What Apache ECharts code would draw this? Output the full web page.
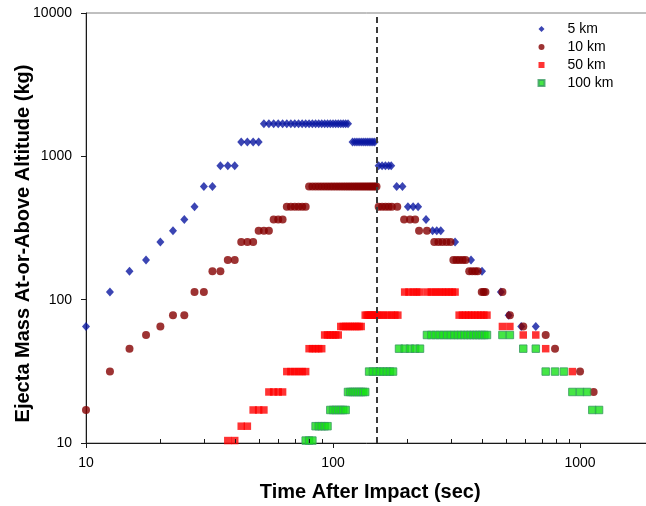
<!DOCTYPE html>
<html>
<head>
<meta charset="utf-8">
<script src="https://cdn.jsdelivr.net/npm/echarts@6/dist/echarts.min.js"></script>
<style>
html,body{margin:0;padding:0;background:#ffffff;}
#chart{width:646px;height:506px;}
</style>
</head>
<body>
<div id="chart"></div>
<script>
// ---- Data ----
const seriesNames = ['5 km', '10 km', '50 km', '100 km'];

const blueTime = [10, 12.5, 15, 17.5, 20, 22.5, 25, 27.5, 30, 32.5, 35, 37.5, 40, 42.5, 45, 47.5, 50,
  52.5, 55, 57.5, 60, 62.5, 65, 67.5, 70, 72.5, 75, 77.5, 80, 82.5, 85, 87.5, 90, 92.5, 95, 97.5, 100, 102.5, 105, 107.5, 110, 112.5, 115,
  120, 122.5, 125, 127.5, 130, 132.5, 135, 137.5, 140, 142.5, 145, 147.5,
  153, 158, 163, 168, 172, 181, 191, 201, 211, 221, 238, 253, 263, 273, 312, 362, 401, 478, 514, 578, 662];
const blueMass = [65, 113, 158, 189, 253, 303, 362, 445, 615, 615, 860, 860, 860, 1260, 1260, 1260, 1260,
  1690, 1690, 1690, 1690, 1690, 1690, 1690, 1690, 1690, 1690, 1690, 1690, 1690, 1690, 1690, 1690, 1690, 1690, 1690, 1690, 1690, 1690, 1690, 1690, 1690, 1690,
  1260, 1260, 1260, 1260, 1260, 1260, 1260, 1260, 1260, 1260, 1260, 1260,
  860, 860, 860, 860, 860, 615, 615, 445, 445, 445, 362, 303, 303, 303, 253, 189, 158, 113, 78, 65, 65];

const maroonTime = [10, 12.5, 15, 17.5, 20, 22.5, 25, 27.5, 30, 32.5, 35, 37.5, 40, 42.5, 45, 47.5, 50, 52.5, 55, 57.5, 60, 62.5,
  65, 67.5, 70, 72.5, 75, 77.5,
  80, 82.5, 85, 87.5, 90, 92.5, 95, 97.5, 100, 102.5, 105, 107.5, 110, 112.5, 115, 117.5, 120, 122.5, 125, 127.5, 130, 132.5, 135, 137.5, 140, 142.5, 145, 147.5, 150,
  153, 158, 163, 168, 173, 182, 194, 205, 215, 223, 240, 257, 267, 277, 288, 299, 307, 316, 325, 335, 344, 356, 366, 376, 385,
  400, 407, 414, 485, 520, 589, 726, 792, 1000, 1135];
const maroonMass = [17, 31.5, 45.5, 56.7, 65, 78, 78, 113, 113, 158, 158, 189, 189, 253, 253, 253, 303, 303, 303, 362, 362, 362,
  445, 445, 445, 445, 445, 445,
  615, 615, 615, 615, 615, 615, 615, 615, 615, 615, 615, 615, 615, 615, 615, 615, 615, 615, 615, 615, 615, 615, 615, 615, 615, 615, 615, 615, 615,
  445, 445, 445, 445, 445, 445, 362, 362, 362, 303, 303, 253, 253, 253, 253, 253, 189, 189, 189, 189, 189, 158, 158, 158, 158,
  113, 113, 113, 113, 78, 65, 56.7, 45.5, 31.5, 22.7];

const redTime = [37.5, 40, 42.5, 45, 47.5, 50, 52.5, 55, 57.5, 60, 62.5,
  65, 67.5, 70, 72.5, 75, 77.5,
  80, 82.5, 85, 87.5, 90,
  92.5, 95, 97.5, 100, 102.5, 105,
  107.5, 110, 112.5, 115, 117.5, 120, 122.5, 125, 127.5, 130,
  135, 137.5, 140, 142.5, 145, 147.5, 150, 155, 160, 166, 172, 178, 183,
  195, 203, 211, 218, 225, 241, 250, 259, 268, 277, 286, 295, 304, 312,
  324, 334, 344, 354, 364, 375, 386, 397, 408, 420,
  485, 520, 589, 662, 726, 931];
const redMass = [10.4, 10.4, 13.1, 13.1, 17, 17, 17, 22.7, 22.7, 22.7, 22.7,
  31.5, 31.5, 31.5, 31.5, 31.5, 31.5,
  45.5, 45.5, 45.5, 45.5, 45.5,
  56.7, 56.7, 56.7, 56.7, 56.7, 56.7,
  65, 65, 65, 65, 65, 65, 65, 65, 65, 65,
  78, 78, 78, 78, 78, 78, 78, 78, 78, 78, 78, 78, 78,
  113, 113, 113, 113, 113, 113, 113, 113, 113, 113, 113, 113, 113, 113,
  78, 78, 78, 78, 78, 78, 78, 78, 78, 78,
  65, 65, 56.7, 56.7, 45.5, 31.5];

const greenTime = [77.5, 80, 82.5, 85, 87.5, 90, 92.5, 95, 97.5, 100, 102.5, 105, 107.5, 110, 112.5,
  115, 117.5, 120, 122.5, 125, 127.5, 130, 132.5, 135,
  140, 145, 150, 155, 160, 165, 170, 175,
  185, 195, 205, 215, 225,
  240, 250, 260, 270, 280, 290, 300, 310, 320, 330, 340, 350, 360, 370, 380, 390, 400, 410, 420, 485, 520,
  589, 662, 726, 792, 860, 931, 1000, 1067, 1121, 1194];
const greenMass = [10.4, 10.4, 10.4, 13.1, 13.1, 13.1, 13.1, 13.1, 17, 17, 17, 17, 17, 17, 17,
  22.7, 22.7, 22.7, 22.7, 22.7, 22.7, 22.7, 22.7, 22.7,
  31.5, 31.5, 31.5, 31.5, 31.5, 31.5, 31.5, 31.5,
  45.5, 45.5, 45.5, 45.5, 45.5,
  56.7, 56.7, 56.7, 56.7, 56.7, 56.7, 56.7, 56.7, 56.7, 56.7, 56.7, 56.7, 56.7, 56.7, 56.7, 56.7, 56.7, 56.7, 56.7, 56.7, 56.7,
  45.5, 45.5, 31.5, 31.5, 31.5, 22.7, 22.7, 22.7, 17, 17];

const impactMarkTime = 150;
const xMinorTicks = [20, 30, 40, 50, 60, 70, 80, 90, 200, 300, 400, 500, 600, 700, 800, 900];

// ---- Chart ----
const FONT = '"Liberation Sans", Arial, Helvetica, sans-serif';
const pairs = (t, m) => t.map((x, i) => [x, m[i]]);

const chart = echarts.init(document.getElementById('chart'), null, { renderer: 'canvas' });

const option = {
  animation: false,
  backgroundColor: '#ffffff',
  grid: { left: 86, right: -8.4, top: 13, bottom: 63, show: true, borderColor: '#808080', borderWidth: 1,
    containLabel: false, outerBoundsMode: 'none' },
  legend: {
    orient: 'vertical', left: 537.5, top: 22, padding: 0, itemWidth: 6, itemHeight: 6, itemGap: 4,
    textStyle: { fontFamily: FONT, fontSize: 14, color: '#000', padding: [0, 0, 0, 18] },
    data: [
      { name: seriesNames[0], icon: 'diamond' },
      { name: seriesNames[1], icon: 'circle' },
      { name: seriesNames[2], icon: 'rect' },
      { name: seriesNames[3], icon: 'rect' }
    ]
  },
  xAxis: {
    type: 'log', logBase: 10, min: 10, max: 2000,
    name: 'Time After Impact (sec)', nameLocation: 'middle', nameGap: 39, nameMoveOverlap: false,
    nameTextStyle: { fontFamily: FONT, fontSize: 20, fontWeight: 'bold', color: '#000' },
    axisLine: { show: true, onZero: false, lineStyle: { color: '#1a1a1a', width: 1 } },
    axisTick: { show: true, inside: false, length: 5, lineStyle: { color: '#1a1a1a' } },
    axisLabel: { fontFamily: FONT, fontSize: 14, color: '#000', margin: 13, showMaxLabel: false,
      formatter: v => String(Math.round(v)) },
    splitLine: { show: false }
  },
  yAxis: {
    type: 'log', logBase: 10, min: 10, max: 10000,
    name: 'Ejecta Mass At-or-Above Altitude (kg)', nameLocation: 'middle', nameGap: 53, nameMoveOverlap: false,
    nameTextStyle: { fontFamily: FONT, fontSize: 20, fontWeight: 'bold', color: '#000', padding: [0, 31, 0, 0] },
    axisLine: { show: true, onZero: false, lineStyle: { color: '#1a1a1a', width: 1 } },
    axisTick: { show: true, inside: false, length: 5, lineStyle: { color: '#1a1a1a' } },
    axisLabel: { fontFamily: FONT, fontSize: 14, color: '#000', margin: 14,
      formatter: v => String(Math.round(v)) },
    splitLine: { show: false }
  },
  series: [
    {
      name: seriesNames[0], type: 'scatter', symbol: 'diamond', symbolSize: [8, 9],
      itemStyle: { color: '#0a16a0' }, data: pairs(blueTime, blueMass), z: 2
    },
    {
      name: seriesNames[1], type: 'scatter', symbol: 'circle', symbolSize: 8,
      itemStyle: { color: '#840000' }, data: pairs(maroonTime, maroonMass), z: 3
    },
    {
      name: seriesNames[2], type: 'scatter', symbol: 'rect', symbolSize: 7.5,
      itemStyle: { color: '#ff0000' }, data: pairs(redTime, redMass), z: 4
    },
    {
      name: seriesNames[3], type: 'scatter', symbol: 'rect', symbolSize: 7.5,
      itemStyle: { color: '#16e016', borderColor: '#3a9a62', borderWidth: 1 },
      data: pairs(greenTime, greenMass), z: 5,
      markLine: {
        silent: true, symbol: ['none', 'none'], label: { show: false },
        lineStyle: { color: '#3a3a3a', width: 2, type: [6, 4] },
        data: [{ xAxis: impactMarkTime }]
      }
    },
    {
      name: 'minorTicks', type: 'custom', coordinateSystem: 'cartesian2d', silent: true, z: 6,
      data: xMinorTicks.map(v => [v, 10]),
      renderItem: (params, api) => {
        const p = api.coord([api.value(0), api.value(1)]);
        const x = Math.round(p[0]) + 0.5;
        return { type: 'line', shape: { x1: x, y1: p[1], x2: x, y2: p[1] - 4 },
          style: { stroke: '#1a1a1a', lineWidth: 1 } };
      }
    }
  ]
};
chart.setOption(option);
</script>
</body>
</html>
